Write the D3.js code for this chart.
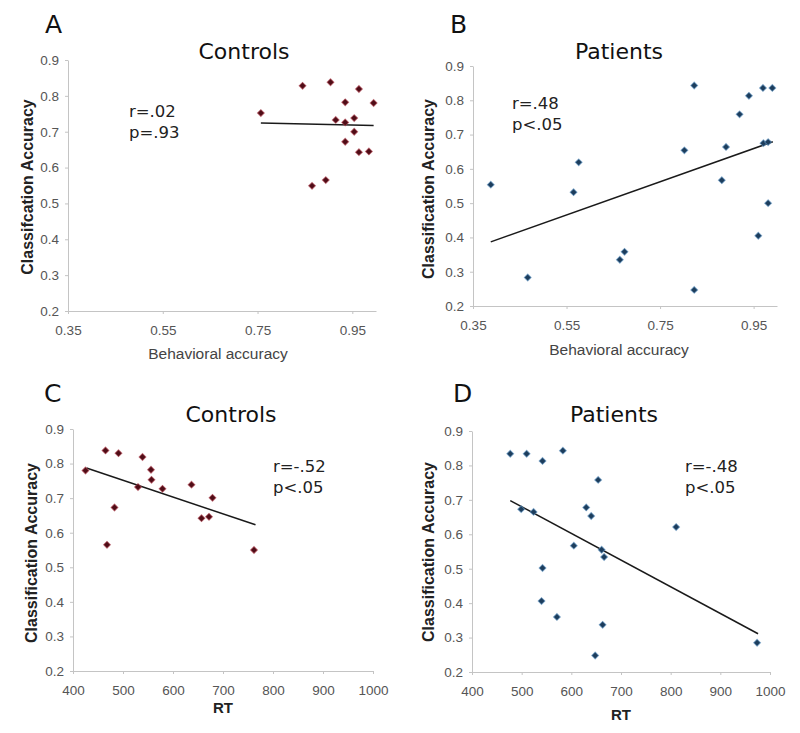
<!DOCTYPE html>
<html>
<head>
<meta charset="utf-8">
<script src="https://cdn.jsdelivr.net/npm/d3@7"></script>
<style>
  body { margin: 0; background: #fff; }
  svg { display: block; }
  .tick text { font-family: "Liberation Sans", Arial, sans-serif; font-size: 13.5px; fill: #555; }
  .tick line, .domain { stroke: #c4c4c4; }
</style>
</head>
<body>
<svg id="chart" width="800" height="733"></svg>
<script>
// tick values
const behavioralTicks = [0.35, 0.55, 0.75, 0.95];
const rtTicks = [400, 500, 600, 700, 800, 900, 1000];
const accuracyTicks = [0.2, 0.3, 0.4, 0.5, 0.6, 0.7, 0.8, 0.9];

// A: controls, behavioral accuracy vs classification accuracy
const controlsBehav = [0.757, 0.845, 0.904, 0.964, 0.935, 0.995, 0.915, 0.935, 0.954, 0.954, 0.935, 0.964, 0.985, 0.894, 0.865];
const controlsAccA  = [0.752, 0.828, 0.838, 0.819, 0.782, 0.780, 0.733, 0.726, 0.738, 0.700, 0.672, 0.643, 0.645, 0.565, 0.549];
const fitA = [[0.757, 0.724], [0.995, 0.717]];

// B: patients, behavioral accuracy vs classification accuracy
const patientsBehav = [0.388, 0.467, 0.565, 0.576, 0.664, 0.674, 0.802, 0.823, 0.823, 0.882, 0.891, 0.920, 0.940, 0.960, 0.970, 0.971, 0.981, 0.981, 0.990];
const patientsAccB  = [0.554, 0.283, 0.532, 0.619, 0.335, 0.358, 0.654, 0.843, 0.247, 0.567, 0.664, 0.759, 0.813, 0.405, 0.836, 0.675, 0.678, 0.500, 0.836];
const fitB = [[0.388, 0.387], [0.991, 0.679]];

// C: controls, RT vs classification accuracy
const controlsRT   = [425, 465, 491, 483, 468, 530, 539, 556, 557, 579, 637, 657, 672, 679, 762];
const controlsAccC = [0.780, 0.838, 0.830, 0.673, 0.565, 0.732, 0.819, 0.782, 0.753, 0.727, 0.739, 0.642, 0.646, 0.701, 0.550];
const fitC = [[427, 0.787], [765, 0.623]];

// D: patients, RT vs classification accuracy
const patientsRT   = [477, 510, 542, 583, 654, 630, 640, 499, 524, 605, 661, 666, 811, 542, 540, 571, 663, 648, 974];
const patientsAccD = [0.834, 0.834, 0.813, 0.843, 0.758, 0.678, 0.653, 0.673, 0.665, 0.567, 0.555, 0.534, 0.621, 0.502, 0.406, 0.360, 0.337, 0.248, 0.285];
const fitD = [[477, 0.698], [976, 0.311]];

const CONTROL_FILL = "#4f0d17", CONTROL_EDGE = "#b04250";
const PATIENT_FILL = "#1d3d5c", PATIENT_EDGE = "#5d93c2";

const panels = [
  { letter: "A", title: "Controls", stats: ["r=.02", "p=.93"],
    xs: controlsBehav, ys: controlsAccA, fit: fitA, xDomain: [0.35, 1.0], xTicks: behavioralTicks,
    xFmt: d3.format(".2f"), xLabel: "Behavioral accuracy", xBold: false, yLabel: "Classifcation Accuracy",
    fill: CONTROL_FILL, edge: CONTROL_EDGE,
    xRange: [68, 376], yRange: [311, 60],
    letterPos: [45, 33], titlePos: [244, 59], statsPos: [129, 117], xLabelPos: [218, 359], yLabelPos: [27, 187] },
  { letter: "B", title: "Patients", stats: ["r=.48", "p<.05"],
    xs: patientsBehav, ys: patientsAccB, fit: fitB, xDomain: [0.35, 1.0], xTicks: behavioralTicks,
    xFmt: d3.format(".2f"), xLabel: "Behavioral accuracy", xBold: false, yLabel: "Classification Accuracy",
    fill: PATIENT_FILL, edge: PATIENT_EDGE,
    xRange: [473, 777], yRange: [306, 66],
    letterPos: [450, 33], titlePos: [619, 59], statsPos: [512, 109], xLabelPos: [619, 355], yLabelPos: [428, 189] },
  { letter: "C", title: "Controls", stats: ["r=-.52", "p<.05"],
    xs: controlsRT, ys: controlsAccC, fit: fitC, xDomain: [400, 1000], xTicks: rtTicks,
    xFmt: d3.format("d"), xLabel: "RT", xBold: true, yLabel: "Classification Accuracy",
    fill: CONTROL_FILL, edge: CONTROL_EDGE,
    xRange: [73, 373], yRange: [671, 429],
    letterPos: [44, 402], titlePos: [231, 422], statsPos: [273, 472], xLabelPos: [223, 713], yLabelPos: [31, 553] },
  { letter: "D", title: "Patients", stats: ["r=-.48", "p<.05"],
    xs: patientsRT, ys: patientsAccD, fit: fitD, xDomain: [400, 1000], xTicks: rtTicks,
    xFmt: d3.format("d"), xLabel: "RT", xBold: true, yLabel: "Classification Accuracy",
    fill: PATIENT_FILL, edge: PATIENT_EDGE,
    xRange: [472, 770], yRange: [672, 431],
    letterPos: [453, 402], titlePos: [614, 422], statsPos: [685, 472], xLabelPos: [621, 720], yLabelPos: [428, 552] }
];

const svg = d3.select("#chart");
// square turned 45 degrees, as the original spreadsheet markers
const marker = d3.symbol().type(d3.symbolSquare).size(24);
const labelFont = "'DejaVu Sans', 'Lucida Grande', sans-serif";
const axisFont = "'Liberation Sans', Arial, sans-serif";

panels.forEach(p => {
  const g = svg.append("g");
  const x = d3.scaleLinear().domain(p.xDomain).range(p.xRange);
  const y = d3.scaleLinear().domain([0.2, 0.9]).range(p.yRange);

  g.append("g")
      .attr("transform", `translate(0,${p.yRange[0]})`)
      .call(d3.axisBottom(x).tickValues(p.xTicks).tickFormat(p.xFmt)
        .tickSizeInner(3).tickSizeOuter(0).tickPadding(11));

  g.append("g")
      .attr("transform", `translate(${p.xRange[0]},0)`)
      .call(d3.axisLeft(y).tickValues(accuracyTicks).tickFormat(d3.format(".1f"))
        .tickSizeInner(3).tickSizeOuter(0).tickPadding(6));

  // fit line
  g.append("line")
      .attr("x1", x(p.fit[0][0])).attr("y1", y(p.fit[0][1]))
      .attr("x2", x(p.fit[1][0])).attr("y2", y(p.fit[1][1]))
      .attr("stroke", "#1a1a1a").attr("stroke-width", 1.5);

  // points
  g.selectAll("path.pt")
    .data(d3.zip(p.xs, p.ys))
    .join("path")
      .attr("class", "pt")
      .attr("d", marker)
      .attr("transform", d => `translate(${x(d[0])},${y(d[1])}) rotate(45)`)
      .attr("fill", p.fill)
      .attr("stroke", p.edge)
      .attr("stroke-opacity", 0.6)
      .attr("stroke-width", 1);

  g.append("text")
      .attr("x", p.letterPos[0]).attr("y", p.letterPos[1])
      .attr("font-family", labelFont).attr("font-size", 25).attr("fill", "#111")
      .text(p.letter);

  g.append("text")
      .attr("x", p.titlePos[0]).attr("y", p.titlePos[1])
      .attr("text-anchor", "middle")
      .attr("font-family", labelFont).attr("font-size", 22).attr("fill", "#111")
      .text(p.title);

  g.selectAll("text.stat")
    .data(p.stats)
    .join("text")
      .attr("class", "stat")
      .attr("x", p.statsPos[0])
      .attr("y", (d, i) => p.statsPos[1] + i * 21)
      .attr("font-family", labelFont).attr("font-size", 16.5).attr("fill", "#222")
      .text(d => d);

  g.append("text")
      .attr("x", p.xLabelPos[0]).attr("y", p.xLabelPos[1])
      .attr("text-anchor", "middle")
      .attr("font-family", axisFont)
      .attr("font-size", p.xBold ? 15 : 15.5)
      .attr("font-weight", p.xBold ? "bold" : "normal")
      .attr("fill", p.xBold ? "#222" : "#444")
      .text(p.xLabel);

  g.append("text")
      .attr("transform", `translate(${p.yLabelPos[0]},${p.yLabelPos[1]}) rotate(-90)`)
      .attr("text-anchor", "middle")
      .attr("dominant-baseline", "central")
      .attr("font-family", axisFont).attr("font-size", 16).attr("font-weight", "bold")
      .attr("fill", "#222")
      .text(p.yLabel);
});
</script>
</body>
</html>
